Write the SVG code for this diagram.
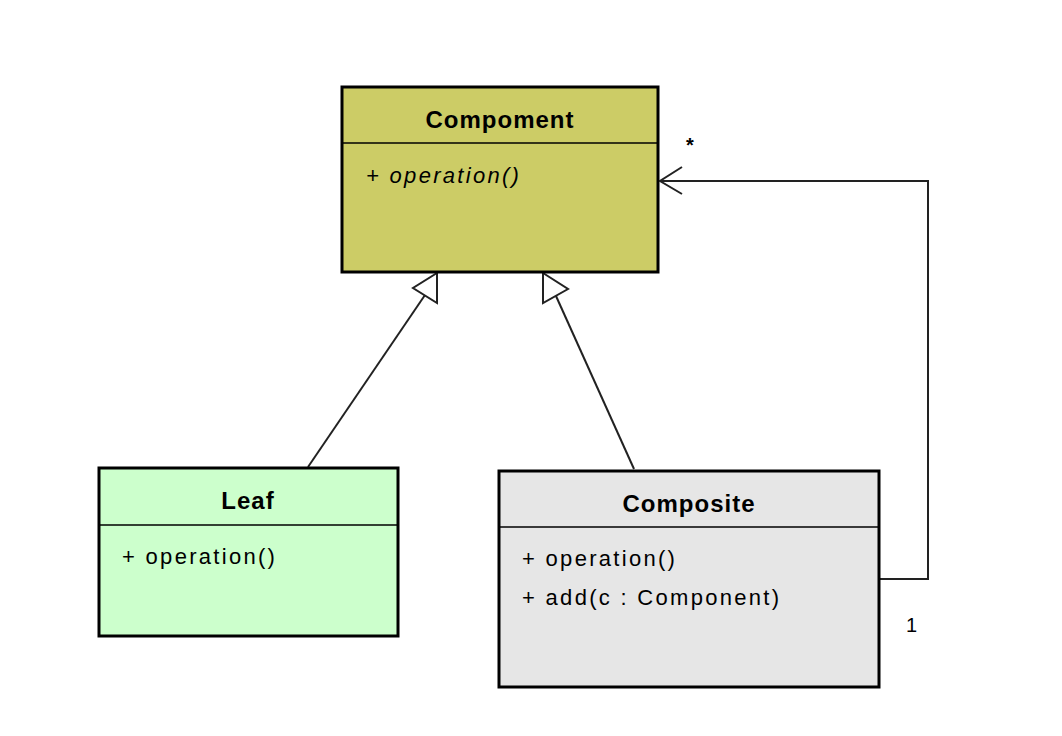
<svg xmlns="http://www.w3.org/2000/svg" width="1062" height="736" viewBox="0 0 1062 736">
<style>
.box{stroke:#000;stroke-width:3}
.div{stroke:#000;stroke-width:1.5}
.title{font-family:"Liberation Sans",Arial,sans-serif;font-weight:bold;font-size:24px;fill:#000;text-anchor:middle;letter-spacing:1px}
.op{font-family:"Liberation Sans",Arial,sans-serif;font-size:22px;fill:#000;letter-spacing:2.3px}
.conn{fill:none;stroke:#222;stroke-width:2}
.lbl{font-family:"Liberation Sans",Arial,sans-serif;font-size:20px;fill:#000}
</style>
<rect width="1062" height="736" fill="#fff"/>
<g id="connectors">
<line class="conn" x1="308" y1="467" x2="425" y2="295"/>
<polygon points="437,273 437,303 413,288" fill="#fff" stroke="#222" stroke-width="2"/>
<line class="conn" x1="634" y1="469" x2="556" y2="296"/>
<polygon points="543,273 543,303 568,289" fill="#fff" stroke="#222" stroke-width="2"/>
<polyline class="conn" points="879,579 928,579 928,181 660,181"/>
<polyline class="conn" points="682,167 660,181 682,194"/>
<text class="lbl" x="686" y="152" font-size="26" font-weight="bold">*</text>
<text class="lbl" x="906" y="632">1</text>
</g>
<g id="component">
<rect class="box" x="342" y="87" width="316" height="185" fill="#CCCC66"/>
<line class="div" x1="342" y1="143" x2="658" y2="143"/>
<text class="title" x="500" y="128">Compoment</text>
<text class="op" x="366" y="183" font-style="italic">+ operation()</text>
</g>
<g id="leaf">
<rect class="box" x="99" y="468" width="299" height="168" fill="#CCFFCC"/>
<line class="div" x1="99" y1="525" x2="398" y2="525"/>
<text class="title" x="248" y="509">Leaf</text>
<text class="op" x="122" y="564">+ operation()</text>
</g>
<g id="composite">
<rect class="box" x="499" y="471" width="380" height="216" fill="#E6E6E6"/>
<line class="div" x1="499" y1="527" x2="879" y2="527"/>
<text class="title" x="689" y="512">Composite</text>
<text class="op" x="522" y="566">+ operation()</text>
<text class="op" x="522" y="605">+ add(c : Component)</text>
</g>
</svg>
